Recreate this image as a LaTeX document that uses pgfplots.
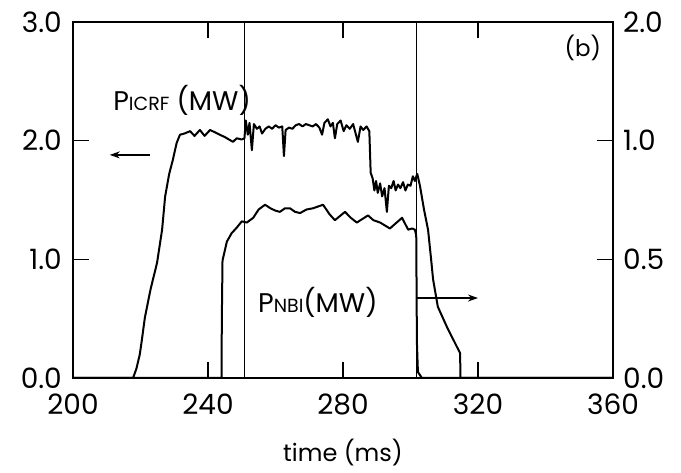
\documentclass[border=0pt]{standalone}
\usepackage{fontspec}
\setmainfont{Poppins}
\usepackage{pgfplots}
\pgfplotsset{compat=1.18}
\usetikzlibrary{arrows.meta}
\begin{document}
\begin{tikzpicture}
\begin{axis}[
  name=main,
  scale only axis, width=540pt, height=356pt,
  xmin=200, xmax=360, ymin=0, ymax=3,
  xtick={200,240,280,320,360},
  ytick={0,1,2,3},
  yticklabels={0.0,1.0,2.0,3.0},
  ytick pos=left,
  tick align=inside,
  major tick length=16pt,
  every tick/.style={line width=1.4pt, black},
  axis line style={line width=2.5pt},
  /pgf/number format/assume math mode=true,
  tick label style={font=\fontsize{28}{32}\selectfont},
  xticklabel style={inner sep=0pt, yshift=-16pt},
  yticklabel style={inner sep=0pt, xshift=-11pt},
  xlabel={time (ms)},
  xlabel style={font=\fontsize{24}{28}\selectfont, at={(axis description cs:0.5,0)}, anchor=north, inner sep=0pt, yshift=-61pt},
  clip=false,
]
% P_ICRF
\addplot[black, line width=2pt, line join=round] coordinates {
(200,0)(217.8,0)(218.8,0.08)(219.8,0.2)(220.4,0.32)(221.3,0.51)(223,0.75)(224.9,0.97)
(226.4,1.25)(227.3,1.53)(228.5,1.72)(229.6,1.84)(230.7,1.98)(231.7,2.05)(233,2.06)
(234.7,2.08)(236,2.04)(237.6,2.09)(239,2.04)(240.6,2.09)(242.1,2.07)(243.5,2.05)
(245,2.03)(247.4,1.99)(248.5,2.02)(250,2.01)(250.8,2.02)(251.2,2.17)(251.8,2.05)
(252.3,2.15)(253,1.92)(253.6,2.14)(254.5,2.10)(255.3,2.12)(256,2.06)(257,2.10)
(258,2.12)(259,2.10)(260,2.13)(261,2.11)(262,2.12)(262.5,1.87)(263,2.09)(264,2.11)
(265,2.10)(266,2.13)(267,2.14)(268,2.12)(269,2.14)(270,2.13)(271,2.12)(272,2.14)
(273,2.11)(273.8,2.05)(274.5,2.15)(275.5,2.18)(276.3,2.12)(277,2.15)(277.6,2.02)
(278.3,2.14)(279.3,2.17)(280.2,2.08)(281,2.13)(282,2.10)(283,2.14)(284.4,1.99)
(285.2,2.12)(286,2.09)(287,2.12)(287.8,2.08)(288.2,1.73)(288.8,1.68)(289.3,1.58)
(289.8,1.66)(290.3,1.56)(291,1.64)(291.6,1.53)(292.3,1.60)(293,1.40)(293.6,1.62)
(294.3,1.60)(295,1.66)(295.6,1.58)(296.3,1.63)(297,1.60)(297.8,1.65)(298.5,1.58)
(299.2,1.63)(300,1.62)(300.7,1.70)(301.3,1.66)(302,1.72)(302.8,1.62)(304,1.42)
(305.2,1.25)(306,1.03)(306.7,0.83)(308.1,0.60)(310.8,0.43)(313.8,0.26)(314.7,0.21)
(314.8,0)(360,0)
};
% P_NBI
\addplot[black, line width=2pt, line join=round] coordinates {
(200,0)(244.0,0)(244.1,0.5)(244.3,0.99)(245.6,1.15)(247,1.22)(248.6,1.27)(250,1.32)
(251.5,1.31)(253.4,1.35)(255,1.42)(256.9,1.46)(258.5,1.43)(260,1.41)(261.3,1.40)
(262.8,1.43)(264.3,1.43)(265.8,1.40)(267.3,1.39)(269.2,1.42)(271.1,1.43)(274.1,1.46)
(276,1.38)(277.6,1.33)(280.6,1.40)(282.3,1.35)(284.1,1.31)(287.4,1.37)(289,1.33)
(291,1.31)(293.9,1.26)(295.5,1.30)(297.5,1.35)(299.3,1.25)(300.5,1.26)(301.3,1.25)
(301.7,1.2)(301.9,0.3)(302.2,0.05)(303.4,0)(360,0)
};
% time markers
\addplot[black, line width=0.9pt] coordinates {(250.8,0)(250.8,3)};
\addplot[black, line width=0.9pt] coordinates {(301.7,0)(301.7,3)};
% annotations
\node[anchor=west, inner sep=0pt] at (axis cs:211.9,2.34)
  {\fontsize{27}{30}\selectfont P{\fontsize{19}{22}\selectfont ICRF} (MW)};
\draw[line width=1.3pt, -{Stealth[length=10pt,width=7pt]}] (axis cs:222.8,1.88) -- (axis cs:210.9,1.88);
\node[anchor=west, inner sep=0pt] at (axis cs:254.8,0.64)
  {\fontsize{27}{30}\selectfont P{\fontsize{19}{22}\selectfont NBI}(MW)};
\draw[line width=1.3pt, -{Stealth[length=10pt,width=7pt]}] (axis cs:301.7,0.674) -- (axis cs:320,0.674);
\node at (axis cs:351.1,2.78) {\fontsize{23}{26}\selectfont (b)};
\end{axis}
\begin{axis}[
  scale only axis, width=540pt, height=356pt,
  xmin=200, xmax=360, ymin=0, ymax=3,
  hide x axis,
  axis y line*=right,
  ytick={0,1,2,3},
  yticklabels={0.0,0.5,1.0,2.0},
  tick align=inside,
  major tick length=16pt,
  every tick/.style={line width=1.4pt, black},
  axis line style={line width=2.5pt},
  tick label style={font=\fontsize{28}{32}\selectfont},
  yticklabel style={inner sep=0pt, xshift=10pt},
]
\end{axis}
\path[use as bounding box] (main.south west) ++(-73pt,-95pt) rectangle ([shift={(68pt,22pt)}]main.north east);
\end{tikzpicture}
\end{document}
